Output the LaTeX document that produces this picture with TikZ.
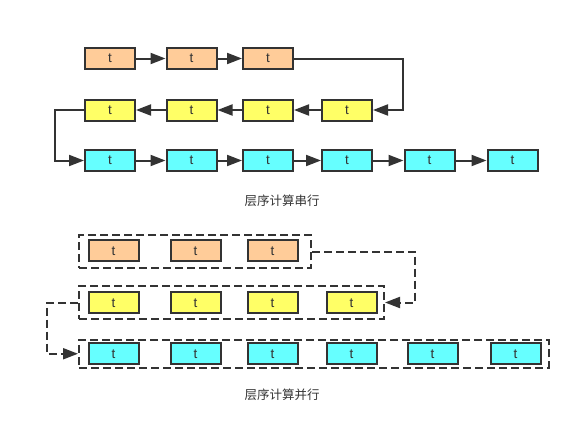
\documentclass[tikz,border=0pt]{standalone}
\usepackage{fontspec}
\setmainfont{Liberation Sans}
\newfontfamily\cjkfont{Noto Sans CJK SC}
\usetikzlibrary{arrows.meta}

\definecolor{linegray}{HTML}{333333}
\definecolor{torange}{HTML}{FFCC99}
\definecolor{tyellow}{HTML}{FFFF66}
\definecolor{tcyan}{HTML}{66FFFF}

\tikzset{
  tbox/.style={draw=linegray, line width=2pt, minimum width=50pt, minimum height=21pt,
    inner sep=0pt, text=linegray, font=\fontsize{13.5}{15}\selectfont},
  group/.style={draw=linegray, line width=2pt, dash pattern=on 8pt off 4pt, inner sep=0pt},
  link/.style={draw=linegray, line width=2pt, -{Triangle[length=15pt,width=11pt]}},
  dlink/.style={link, dash pattern=on 8pt off 4pt},
  caption/.style={text=linegray, font=\cjkfont\fontsize{12.5}{14}\selectfont}
}

\begin{document}
\begin{tikzpicture}[x=1pt, y=-1pt]
\useasboundingbox (0,0) rectangle (582,439);

%% Serial layers %%
% first layer %
\node[tbox, fill=torange] (o1) at (110,58.5) {t};
\node[tbox, fill=torange] (o2) at (191.5,58.5) {t};
\node[tbox, fill=torange] (o3) at (268,58.5) {t};

% second layer %
\node[tbox, fill=tyellow] (y1) at (110,110) {t};
\node[tbox, fill=tyellow] (y2) at (191.5,110) {t};
\node[tbox, fill=tyellow] (y3) at (268,110) {t};
\node[tbox, fill=tyellow] (y4) at (347,110) {t};

% third layer %
\node[tbox, fill=tcyan] (c1) at (110,160.5) {t};
\node[tbox, fill=tcyan] (c2) at (191.5,160.5) {t};
\node[tbox, fill=tcyan] (c3) at (268,160.5) {t};
\node[tbox, fill=tcyan] (c4) at (347,160.5) {t};
\node[tbox, fill=tcyan] (c5) at (429.5,160.5) {t};
\node[tbox, fill=tcyan] (c6) at (512.5,160.5) {t};

% connections %
\draw[link] (o1) -- (o2);
\draw[link] (o2) -- (o3);
\coordinate (sr) at (403,58.5);
\draw[link] (o3.east) -- (sr) |- (y4.east);
\draw[link] (y4) -- (y3);
\draw[link] (y3) -- (y2);
\draw[link] (y2) -- (y1);
\coordinate (sl) at (55,110);
\draw[link] (y1.west) -- (sl) |- (c1.west);
\draw[link] (c1) -- (c2);
\draw[link] (c2) -- (c3);
\draw[link] (c3) -- (c4);
\draw[link] (c4) -- (c5);
\draw[link] (c5) -- (c6);

\node[caption] (serial) at (282,201) {层序计算串行};

%% Parallel layers %%
% groups %
\node[group, minimum width=232pt, minimum height=33pt] (g1) at (195,251.5) {};
\node[group, minimum width=305pt, minimum height=33pt] (g2) at (231.5,302.5) {};
\node[group, minimum width=469.5pt, minimum height=28pt] (g3) at (313.75,353.75) {};

% first layer %
\node[tbox, fill=torange] (po1) at (113.5,250.7) {t};
\node[tbox, fill=torange] (po2) at (195.5,250.7) {t};
\node[tbox, fill=torange] (po3) at (272.5,250.7) {t};

% second layer %
\node[tbox, fill=tyellow] (py1) at (113.5,302.7) {t};
\node[tbox, fill=tyellow] (py2) at (195.5,302.7) {t};
\node[tbox, fill=tyellow] (py3) at (272.5,302.7) {t};
\node[tbox, fill=tyellow] (py4) at (351.5,302.7) {t};

% third layer %
\node[tbox, fill=tcyan] (pc1) at (113.5,353.7) {t};
\node[tbox, fill=tcyan] (pc2) at (195.5,353.7) {t};
\node[tbox, fill=tcyan] (pc3) at (272.5,353.7) {t};
\node[tbox, fill=tcyan] (pc4) at (351.5,353.7) {t};
\node[tbox, fill=tcyan] (pc5) at (432.5,353.7) {t};
\node[tbox, fill=tcyan] (pc6) at (515.5,353.7) {t};

% connections %
\coordinate (pr) at (415,251.5);
\draw[dlink] (g1.east) -- (pr) |- (g2.east);
\coordinate (pl) at (47,302.5);
\draw[dlink] (g2.west) -- (pl) |- (g3.west);

\node[caption] (parallel) at (282,395) {层序计算并行};

\end{tikzpicture}
\end{document}
